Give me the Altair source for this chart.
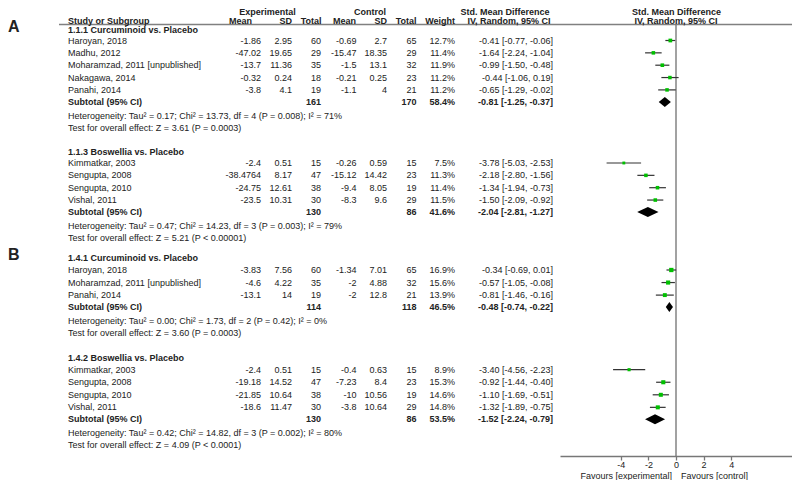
import altair as alt
import pandas as pd

# ---------------- data ----------------
panel_labels = ["A", "B"]
group_panel = [0, 0, 1, 1]
group_titles = ["1.1.1 Curcuminoid vs. Placebo", "1.1.3 Boswellia vs. Placebo",
                "1.4.1 Curcuminoid vs. Placebo", "1.4.2 Boswellia vs. Placebo"]
study_names = [
    ["Haroyan, 2018", "Madhu, 2012", "Moharamzad, 2011 [unpublished]", "Nakagawa, 2014", "Panahi, 2014"],
    ["Kimmatkar, 2003", "Sengupta, 2008", "Sengupta, 2010", "Vishal, 2011"],
    ["Haroyan, 2018", "Moharamzad, 2011 [unpublished]", "Panahi, 2014"],
    ["Kimmatkar, 2003", "Sengupta, 2008", "Sengupta, 2010", "Vishal, 2011"],
]
exp_mean = [[-1.86, -47.02, -13.7, -0.32, -3.8], [-2.4, -38.4764, -24.75, -23.5],
            [-3.83, -4.6, -13.1], [-2.4, -19.18, -21.85, -18.6]]
exp_sd = [[2.95, 19.65, 11.36, 0.24, 4.1], [0.51, 8.17, 12.61, 10.31],
          [7.56, 4.22, 14], [0.51, 14.52, 10.64, 11.47]]
exp_n = [[60, 29, 35, 18, 19], [15, 47, 38, 30], [60, 35, 19], [15, 47, 38, 30]]
ctl_mean = [[-0.69, -15.47, -1.5, -0.21, -1.1], [-0.26, -15.12, -9.4, -8.3],
            [-1.34, -2, -2], [-0.4, -7.23, -10, -3.8]]
ctl_sd = [[2.7, 18.35, 13.1, 0.25, 4], [0.59, 14.42, 8.05, 9.6],
          [7.01, 4.88, 12.8], [0.63, 8.4, 10.56, 10.64]]
ctl_n = [[65, 29, 32, 23, 21], [15, 23, 19, 29], [65, 32, 21], [15, 23, 19, 29]]
weight = [[12.7, 11.4, 11.9, 11.2, 11.2], [7.5, 11.3, 11.4, 11.5],
          [16.9, 15.6, 13.9], [8.9, 15.3, 14.6, 14.8]]
smd = [[-0.41, -1.64, -0.99, -0.44, -0.65], [-3.78, -2.18, -1.34, -1.50],
       [-0.34, -0.57, -0.81], [-3.40, -0.92, -1.10, -1.32]]
ci_lo = [[-0.77, -2.24, -1.50, -1.06, -1.29], [-5.03, -2.80, -1.94, -2.09],
         [-0.69, -1.05, -1.46], [-4.56, -1.44, -1.69, -1.89]]
ci_hi = [[-0.06, -1.04, -0.48, 0.19, -0.02], [-2.53, -1.56, -0.73, -0.92],
         [0.01, -0.08, -0.16], [-2.23, -0.40, -0.51, -0.75]]
sub_exp_n = [161, 130, 114, 130]
sub_ctl_n = [170, 86, 118, 86]
sub_weight = [58.4, 41.6, 46.5, 53.5]
sub_smd = [-0.81, -2.04, -0.48, -1.52]
sub_lo = [-1.25, -2.81, -0.74, -2.24]
sub_hi = [-0.37, -1.27, -0.22, -0.79]
het_text = [
    "Heterogeneity: Tau² = 0.17; Chi² = 13.73, df = 4 (P = 0.008); I² = 71%",
    "Heterogeneity: Tau² = 0.47; Chi² = 14.23, df = 3 (P = 0.003); I² = 79%",
    "Heterogeneity: Tau² = 0.00; Chi² = 1.73, df = 2 (P = 0.42); I² = 0%",
    "Heterogeneity: Tau² = 0.42; Chi² = 14.82, df = 3 (P = 0.002); I² = 80%",
]
test_text = [
    "Test for overall effect: Z = 3.61 (P = 0.0003)",
    "Test for overall effect: Z = 5.21 (P < 0.00001)",
    "Test for overall effect: Z = 3.60 (P = 0.0003)",
    "Test for overall effect: Z = 4.09 (P < 0.0001)",
]
axis_ticks = [-4, -2, 0, 2, 4]
favours_labels = ["Favours [experimental]", "Favours [control]"]

# ---------------- layout (page pixel coords, minus page margin) ----------------
OX, OY = 8, 8
W = 784                 # plot width (page 8..792)
AXIS_Y = 456            # page y of the effect axis
H = AXIS_Y - OY         # plot height
PAD_B = 24


def lx(v):
    return v - OX


def ly(v):
    return v - OY


FONT = "Liberation Sans"
TXT = "#222222"
HDR1, HDR2, RULE_Y = 11.5, 21.0, 24.5
panel_cfg = [dict(top=29.5, pitch=12.35, h2s=11.0, gap=23.5),
             dict(top=257.7, pitch=12.55, h2s=12.3, gap=25.0)]
col_right = dict(em=261, esd=292, en=321, cm=356.5, csd=387, cn=416.5, w=455, ci=553)
STUDY_X = 68
ZERO_X, U = 676, 13.8

texts = []


def add_text(t, x, y, align="left", bold=False, size=9):
    texts.append(dict(t=t, x=lx(x), y=ly(y), al=align, bold=bold, fs=size))


def f(v):
    return f"{v:g}"


# headers
add_text("Experimental", 267.5, HDR1, "center", True)
add_text("Control", 370, HDR1, "center", True)
add_text("Std. Mean Difference", 505, HDR1, "center", True)
add_text("Std. Mean Difference", ZERO_X + 0.5, HDR1, "center", True)
add_text("Study or Subgroup", STUDY_X, HDR2, "left", True)
add_text("Mean", 252, HDR2, "right", True)
add_text("SD", 292, HDR2, "right", True)
add_text("Total", 321.5, HDR2, "right", True)
add_text("Mean", 356, HDR2, "right", True)
add_text("SD", 387, HDR2, "right", True)
add_text("Total", 416.5, HDR2, "right", True)
add_text("Weight", 455, HDR2, "right", True)
add_text("IV, Random, 95% CI", 509, HDR2, "center", True)
add_text("IV, Random, 95% CI", ZERO_X, HDR2, "center", True)

forest = []
diamond = []
cur = [panel_cfg[0]["top"], panel_cfg[1]["top"]]
panel_first = {}
for g in range(len(group_titles)):
    p = group_panel[g]
    cfg = panel_cfg[p]
    hy = cur[p]
    if p not in panel_first:
        panel_first[p] = hy
    add_text(group_titles[g], STUDY_X, hy, "left", True)
    first = hy + cfg["h2s"] if g % 2 == 0 else hy + 11.5
    y = first
    for k, name in enumerate(study_names[g]):
        y = first + k * cfg["pitch"]
        add_text(name, STUDY_X, y)
        add_text(f(exp_mean[g][k]), col_right["em"], y, "right")
        add_text(f(exp_sd[g][k]), col_right["esd"], y, "right")
        add_text(f(exp_n[g][k]), col_right["en"], y, "right")
        add_text(f(ctl_mean[g][k]), col_right["cm"], y, "right")
        add_text(f(ctl_sd[g][k]), col_right["csd"], y, "right")
        add_text(f(ctl_n[g][k]), col_right["cn"], y, "right")
        add_text(f"{weight[g][k]:.1f}%", col_right["w"], y, "right")
        add_text(f"{smd[g][k]:.2f} [{ci_lo[g][k]:.2f}, {ci_hi[g][k]:.2f}]", col_right["ci"], y, "right")
        forest.append(dict(y=ly(y), smd=smd[g][k], lo=ci_lo[g][k], hi=ci_hi[g][k],
                           area=weight[g][k] * 1.1))
    sy = y + 12.0
    add_text("Subtotal (95% CI)", STUDY_X, sy, "left", True)
    add_text(f(sub_exp_n[g]), col_right["en"], sy, "right", True)
    add_text(f(sub_ctl_n[g]), col_right["cn"], sy, "right", True)
    add_text(f"{sub_weight[g]:.1f}%", col_right["w"], sy, "right", True)
    add_text(f"{sub_smd[g]:.2f} [{sub_lo[g]:.2f}, {sub_hi[g]:.2f}]", col_right["ci"], sy, "right", True)
    half = 5.0
    for xv, dh in [(sub_lo[g], 0.0), (sub_smd[g], half), (sub_hi[g], 0.0)]:
        diamond.append(dict(gid=g, x=xv, y1=ly(sy) - dh, y2=ly(sy) + dh))
    hty = sy + 14.0
    add_text(het_text[g], STUDY_X, hty)
    tty = hty + 12.1
    add_text(test_text[g], STUDY_X, tty)
    cur[p] = tty + cfg["gap"]

for p, lab in enumerate(panel_labels):
    texts.append(dict(t=lab, x=0, y=ly(panel_first[p] - 2.5), al="left", bold=True, fs=16))

FAV_Y = AXIS_Y + 19.5
add_text(favours_labels[0], ZERO_X - 4, FAV_Y, "right")
add_text(favours_labels[1], ZERO_X + 5, FAV_Y, "left")

tdf = pd.DataFrame(texts)
fdf = pd.DataFrame(forest)
ddf = pd.DataFrame(diamond)

# ---------------- chart ----------------
x_lo = (560 - ZERO_X) / U
x_hi = (OX + W - ZERO_X) / U
xscale = alt.Scale(domain=[x_lo, x_hi], range=[lx(560), W])

layers = []
for align in ["left", "right", "center"]:
    for bold in [False, True]:
        for size in sorted(tdf["fs"].unique()):
            sub = tdf[(tdf["al"] == align) & (tdf["bold"] == bold) & (tdf["fs"] == size)]
            if len(sub) == 0:
                continue
            layers.append(
                alt.Chart(sub[["t", "x", "y"]]).mark_text(
                    align=align, baseline="middle", font=FONT, fontSize=float(size),
                    fontWeight="bold" if bold else "normal", color=TXT
                ).encode(
                    x=alt.X("x:Q", scale=None, axis=None),
                    y=alt.Y("y:Q", scale=None, axis=None),
                    text="t:N",
                )
            )

header_rule = alt.Chart(pd.DataFrame({"a": [0]})).mark_rule(color="#808080", strokeWidth=1.3).encode(
    x=alt.value(lx(59)), x2=alt.value(W), y=alt.value(ly(RULE_Y))
)

zero_line = alt.Chart(pd.DataFrame({"a": [0]})).mark_rule(color="#707070", strokeWidth=1.3).encode(
    x=alt.X(datum=0, type="quantitative", scale=xscale, axis=None),
    y=alt.value(ly(RULE_Y)), y2=alt.value(H)
)

ci_lines = alt.Chart(fdf).mark_rule(color="#333333", strokeWidth=1.2).encode(
    x=alt.X("lo:Q", scale=xscale, axis=alt.Axis(
        values=axis_ticks, title=None, grid=False, domainColor="#777777", tickColor="#777777",
        tickSize=4, labelPadding=0, labelFont=FONT, labelFontSize=9, labelColor=TXT,
        labelExpr="datum.value + ''", domainWidth=1.3, tickWidth=1.3)),
    x2="hi:Q",
    y=alt.Y("y:Q", scale=None, axis=None),
)

squares = alt.Chart(fdf).mark_square(color="#00c000", opacity=1, filled=True).encode(
    x=alt.X("smd:Q", scale=xscale, axis=None),
    y=alt.Y("y:Q", scale=None, axis=None),
    size=alt.Size("area:Q", scale=None, legend=None),
)

diamonds = alt.Chart(ddf).mark_area(color="black", orient="vertical", opacity=1).encode(
    x=alt.X("x:Q", scale=xscale, axis=None),
    y=alt.Y("y1:Q", scale=None, axis=None, stack=None),
    y2="y2:Q",
    detail="gid:N",
)

chart = alt.layer(header_rule, zero_line, ci_lines, squares, diamonds, *layers).resolve_scale(
    x="independent", y="independent"
).properties(
    width=W, height=H, autosize=alt.AutoSizeParams(type="none"),
    padding={"left": 0, "top": 0, "right": 0, "bottom": PAD_B},
    background="white",
).configure_view(stroke=None)

chart.save("out.html", embed_options={"renderer": "svg", "actions": False})
